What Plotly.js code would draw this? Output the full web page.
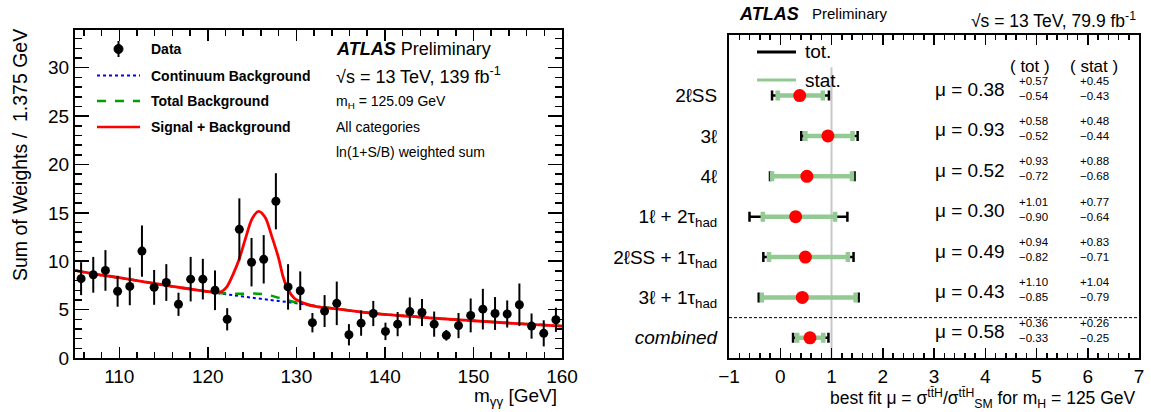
<!DOCTYPE html>
<html><head><meta charset="utf-8">
<script src="https://cdn.plot.ly/plotly-3.0.1.min.js"></script>
<style>html,body{margin:0;padding:0;background:#fff}#chart{width:1151px;height:412px}</style>
</head><body><div id="chart"></div>
<script>
// ---------- Left panel: diphoton invariant mass ----------
const massBins = [105.6875,107.0625,108.4375,109.8125,111.1875,112.5625,113.9375,115.3125,116.6875,118.0625,
  119.4375,120.8125,122.1875,123.5625,124.9375,126.3125,127.6875,129.0625,130.4375,131.8125,
  133.1875,134.5625,135.9375,137.3125,138.6875,140.0625,141.4375,142.8125,144.1875,145.5625,
  146.9375,148.3125,149.6875,151.0625,152.4375,153.8125,155.1875,156.5625,157.9375,159.3125];
const dataWeights = [8.2,8.6,9.05,6.9,7.4,11.05,7.3,7.8,5.55,8.15,
  8.15,7.0,4.0,13.3,9.9,10.2,16.2,7.35,6.95,3.65,
  4.85,5.65,2.4,3.6,4.6,2.75,3.5,4.8,4.7,3.5,
  2.35,3.35,4.4,5.05,4.6,4.55,5.5,3.3,2.55,3.95];
const dataErrors = [1.7,1.85,2.1,1.6,1.95,2.65,1.8,1.9,1.2,2.3,
  2.1,2.05,1.15,3.2,2.5,2.5,2.9,2.35,2.0,1.0,
  1.65,2.25,1.1,1.3,1.3,0.9,1.25,1.45,1.4,1.3,
  0.55,1.3,1.75,2.1,1.7,1.4,2.2,1.3,1.35,1.25];

const contX = [105,107,110,113,116,119,121,123,125,127,129,131,133,135,137,140,143,145,148,150,153,155,158,160];
const contY = [9.05,8.7,8.3,7.85,7.4,7.0,6.72,6.47,6.23,6.0,5.78,5.53,5.26,5.02,4.8,4.5,4.3,4.15,3.97,3.85,3.67,3.55,3.4,3.3];

const totBkgX = [105,107,110,113,116,119,120,121,122,123,124,125,126,127,128,129,130,131,132,133,135,137,140,143,145,148,150,153,155,158,160];
const totBkgY = [9.05,8.7,8.3,7.85,7.4,7.0,6.87,6.76,6.68,6.64,6.65,6.67,6.62,6.47,6.22,5.97,5.75,5.55,5.38,5.26,5.02,4.8,4.5,4.3,4.15,3.97,3.85,3.67,3.55,3.4,3.3];

const sbX = [105,107,110,113,116,119,120.5,121.5,122.15,122.9,123.5,124.3,125,125.75,126.5,127.2,128,128.5,129.1,129.8,130.9,132.3,133.5,135,137,140,143,145,148,150,153,155,158,160];
const sbY = [9.05,8.7,8.3,7.85,7.4,7.0,6.82,6.85,7.35,8.75,10.1,12.5,14.4,15.15,14.5,12.65,10.3,8.4,7.0,6.15,5.65,5.3,5.18,5.02,4.8,4.5,4.3,4.15,3.97,3.85,3.67,3.55,3.4,3.3];

// ---------- Right panel: ttH signal strength ----------
const channels = ['2ℓSS','3ℓ','4ℓ','1ℓ + 2τ<sub>had</sub>','2ℓSS + 1τ<sub>had</sub>','3ℓ + 1τ<sub>had</sub>','<i>combined</i>'];
const mu     = [0.38,0.93,0.52,0.30,0.49,0.43,0.58];
const totUp  = [0.57,0.58,0.93,1.01,0.94,1.10,0.36];
const totDn  = [0.54,0.52,0.72,0.90,0.82,0.85,0.33];
const statUp = [0.45,0.48,0.88,0.77,0.83,1.04,0.26];
const statDn = [0.43,0.44,0.68,0.64,0.71,0.79,0.25];

const W = 1151, H = 412;
const FONT = 'Liberation Sans, Arial, Helvetica, sans-serif';
const px = p => p / W;
const py = p => 1 - p / H;

const traces = [
  {x: contX, y: contY, mode: 'lines', line: {color: '#0000ff', width: 2, dash: 'dot', shape: 'spline', smoothing: 0.8}, xaxis: 'x', yaxis: 'y', hoverinfo: 'skip'},
  {x: totBkgX, y: totBkgY, mode: 'lines', line: {color: '#00a000', width: 2.5, dash: 'dash', shape: 'spline', smoothing: 0.8}, xaxis: 'x', yaxis: 'y', hoverinfo: 'skip'},
  {x: sbX, y: sbY, mode: 'lines', line: {color: '#ff0000', width: 2.8, shape: 'spline', smoothing: 0.8}, xaxis: 'x', yaxis: 'y', hoverinfo: 'skip'},
  {x: massBins, y: dataWeights, mode: 'markers', marker: {color: '#000', size: 9},
   error_y: {type: 'data', array: dataErrors, visible: true, color: '#000', thickness: 2, width: 0}, xaxis: 'x', yaxis: 'y'},
  // right panel
  {x: mu, y: channels, mode: 'markers', marker: {size: 1, opacity: 0},
   error_x: {type: 'data', symmetric: false, array: totUp, arrayminus: totDn, color: '#000', thickness: 2.5, width: 5},
   xaxis: 'x2', yaxis: 'y2'},
  {x: mu, y: channels, mode: 'markers', marker: {color: '#ff0000', size: 13},
   error_x: {type: 'data', symmetric: false, array: statUp, arrayminus: statDn, color: '#93c993', thickness: 4.5, width: 5},
   xaxis: 'x2', yaxis: 'y2'}
];

const ann = [];
const shapes = [];
function txt(x, y, text, size, opts) {
  ann.push(Object.assign({xref: 'paper', yref: 'paper', x: px(x), y: py(y), text: text, showarrow: false,
    xanchor: 'left', yanchor: 'middle', font: {family: FONT, size: size, color: '#000'}}, opts || {}));
}
function line(x0, y0, x1, y1, color, width, dash) {
  shapes.push({type: 'line', xref: 'paper', yref: 'paper', x0: px(x0), y0: py(y0), x1: px(x1), y1: py(y1),
    line: {color: color, width: width, dash: dash || 'solid'}});
}

// left legend
line(118.5, 41, 118.5, 57, '#000', 2);
shapes.push({type: 'circle', xref: 'paper', yref: 'paper', x0: px(114), x1: px(123), y0: py(53.5), y1: py(44.5), fillcolor: '#000', line: {color: '#000', width: 1}});
line(97, 75.5, 140, 75.5, '#0000ff', 2, 'dot');
line(97, 101, 140, 101, '#00a000', 2.5, 'dash');
line(97, 127, 140, 127, '#ff0000', 2.5);
txt(149, 49, '<b>Data</b>', 14);
txt(149, 76, '<b>Continuum Background</b>', 14);
txt(149, 101, '<b>Total Background</b>', 14);
txt(149, 127, '<b>Signal + Background</b>', 14);
// left labels
txt(334, 49, '<b><i>ATLAS</i></b> Preliminary', 18);
txt(334, 75, '√s = 13 TeV, 139 fb<sup>-1</sup>', 18);
txt(334, 102, 'm<sub>H</sub> = 125.09 GeV', 14);
txt(334, 127, 'All categories', 14);
txt(334, 152, 'ln(1+S/B) weighted sum', 14);
// axis titles
txt(559, 397, 'm<sub>γγ</sub> [GeV]', 19, {xanchor: 'right'});
ann.push({xref: 'paper', yref: 'paper', x: px(20), y: py(27), text: 'Sum of Weights /  1.375 GeV', textangle: -90,
  showarrow: false, xanchor: 'center', yanchor: 'top', font: {family: FONT, size: 19.5, color: '#000'}});

// right panel header
txt(737, 14, '<b><i>ATLAS</i></b>', 18);
txt(810, 14, 'Preliminary', 15);
txt(1138, 20, '√s = 13 TeV, 79.9 fb<sup>-1</sup>', 17.5, {xanchor: 'right'});
// right legend
line(757, 52, 796, 52, '#000', 3);
line(757, 80, 796, 80, '#93c993', 3);
txt(803, 52, 'tot.', 19);
txt(803, 80, 'stat.', 19);
txt(1030, 66, '( tot )', 17, {xanchor: 'center'});
txt(1094, 66, '( stat )', 17, {xanchor: 'center'});
// mu values and uncertainties, placed at each channel row
channels.forEach((c, i) => {
  const row = channels.length - 1 - i;
  const base = {xref: 'paper', yref: 'y2', y: row, showarrow: false, xanchor: 'left', yanchor: 'middle'};
  ann.push(Object.assign({}, base, {x: px(933), yshift: 6, text: 'μ = ' + mu[i].toFixed(2), font: {family: FONT, size: 19, color: '#000'}}));
  ann.push(Object.assign({}, base, {x: px(1017), yshift: 15, text: '+' + totUp[i].toFixed(2), font: {family: FONT, size: 11.5, color: '#000'}}));
  ann.push(Object.assign({}, base, {x: px(1017), yshift: 0, text: '−' + totDn[i].toFixed(2), font: {family: FONT, size: 11.5, color: '#000'}}));
  ann.push(Object.assign({}, base, {x: px(1078), yshift: 15, text: '+' + statUp[i].toFixed(2), font: {family: FONT, size: 11.5, color: '#000'}}));
  ann.push(Object.assign({}, base, {x: px(1078), yshift: 0, text: '−' + statDn[i].toFixed(2), font: {family: FONT, size: 11.5, color: '#000'}}));
});
txt(1138, 398, 'best fit μ = σ<sup>tt̄H</sup>/σ<sup>tt̄H</sup><sub>SM</sub> for m<sub>H</sub> = 125 GeV', 17.5, {xanchor: 'right'});

// SM reference line and separator
shapes.push({type: 'line', xref: 'x2', yref: 'y2', x0: 1, x1: 1, y0: -0.5, y1: 6.7, layer: 'below', line: {color: '#c8c8c8', width: 2}});
shapes.push({type: 'line', xref: 'x2', yref: 'y2', x0: -1, x1: 7, y0: 0.5, y1: 0.5, line: {color: '#000', width: 1, dash: '3px,2px'}});

const axBase = {showgrid: false, zeroline: false, showline: true, linecolor: '#000', linewidth: 2,
  ticks: 'inside', tickcolor: '#000', tickwidth: 1.5, mirror: 'ticks',
  tickfont: {family: FONT, size: 19, color: '#000'}};

const layout = {
  width: W, height: H, margin: {l: 0, r: 0, t: 0, b: 0},
  paper_bgcolor: '#fff', plot_bgcolor: '#fff', showlegend: false,
  xaxis: Object.assign({}, axBase, {domain: [px(75), px(562)], range: [105, 160], dtick: 10, ticklen: 11,
    minor: {dtick: 2, ticks: 'inside', ticklen: 6, tickwidth: 1.5, tickcolor: '#000'}, anchor: 'y'}),
  yaxis: Object.assign({}, axBase, {domain: [py(358), py(30)], range: [0, 33.9], dtick: 5, ticklen: 14,
    minor: {dtick: 1, ticks: 'inside', ticklen: 7, tickwidth: 1.5, tickcolor: '#000'}, anchor: 'x'}),
  xaxis2: Object.assign({}, axBase, {domain: [px(729), px(1139)], range: [-1, 7], dtick: 1, ticklen: 10,
    minor: {dtick: 0.2, ticks: 'inside', ticklen: 5, tickwidth: 1.5, tickcolor: '#000'}, anchor: 'y2'}),
  yaxis2: {domain: [py(358), py(35)], type: 'category', categoryorder: 'array', categoryarray: channels.slice().reverse(),
    range: [-0.5, 7.5], showgrid: false, zeroline: false, showline: true, linecolor: '#000', linewidth: 2, mirror: true,
    ticks: '', ticklabelstandoff: 6, tickfont: {family: FONT, size: 19, color: '#000'}, anchor: 'x2'},
  annotations: ann, shapes: shapes
};

Plotly.newPlot('chart', traces, layout, {displayModeBar: false, staticPlot: true});
</script></body></html>
